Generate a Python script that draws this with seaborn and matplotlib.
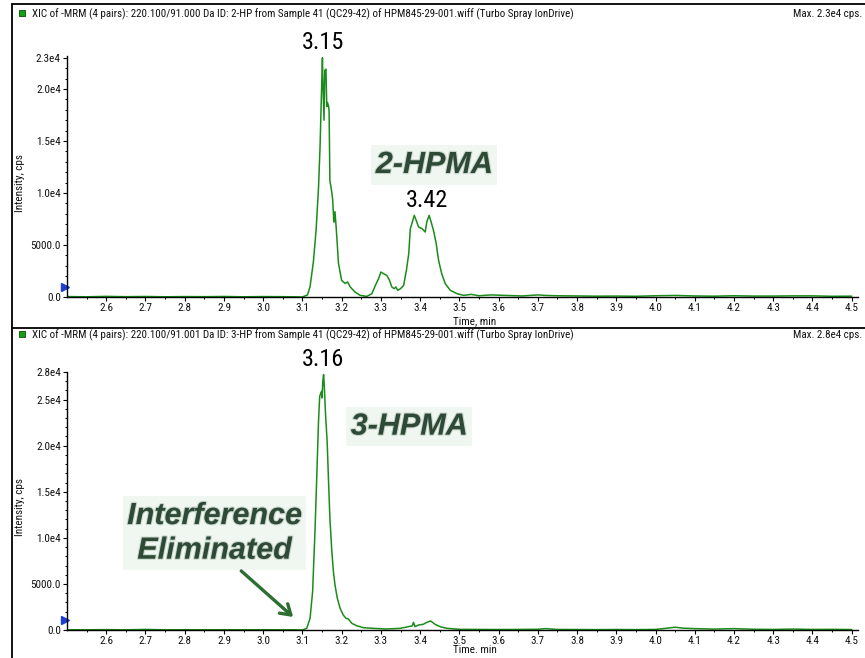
import os
import matplotlib
matplotlib.use("Agg")
import matplotlib.pyplot as plt
import seaborn as sns
import pandas as pd
from matplotlib import font_manager
from matplotlib.font_manager import FontProperties
from matplotlib.lines import Line2D
from matplotlib.patches import Rectangle
import matplotlib.patheffects as pe
from matplotlib.ticker import FixedLocator, MultipleLocator, FixedFormatter

# ---------------- data ----------------
header_2hp = ("XIC of -MRM (4 pairs): 220.100/91.000 Da ID: 2-HP from Sample 41 (QC29-42) "
              "of HPM845-29-001.wiff (Turbo Spray IonDrive)")
header_3hp = ("XIC of -MRM (4 pairs): 220.100/91.001 Da ID: 3-HP from Sample 41 (QC29-42) "
              "of HPM845-29-001.wiff (Turbo Spray IonDrive)")
max_2hp = "Max. 2.3e4 cps."
max_3hp = "Max. 2.8e4 cps."

time_2hp = [2.50, 2.55, 2.60, 2.65, 2.70, 2.75, 2.80, 2.85, 2.90, 2.95, 3.00, 3.05, 3.08,
            3.100, 3.113, 3.1195, 3.128, 3.135, 3.141, 3.145, 3.148, 3.151, 3.152, 3.155,
            3.157, 3.160, 3.162, 3.164, 3.167, 3.168, 3.170, 3.174, 3.177, 3.179, 3.180,
            3.183, 3.186, 3.192, 3.200, 3.209, 3.215, 3.222, 3.234, 3.247, 3.264, 3.277,
            3.286, 3.294, 3.300, 3.307, 3.315, 3.322, 3.328, 3.334, 3.338, 3.343, 3.350,
            3.358, 3.365, 3.371, 3.375, 3.379, 3.385, 3.390, 3.396, 3.405, 3.413, 3.417,
            3.423, 3.428, 3.434, 3.441, 3.447, 3.455, 3.464, 3.477, 3.494, 3.511, 3.53,
            3.55, 3.58, 3.62, 3.66, 3.70, 3.72, 3.75, 3.80, 3.85, 3.90, 3.95, 4.00, 4.05,
            4.10, 4.15, 4.20, 4.25, 4.30, 4.35, 4.40, 4.45, 4.50]
int_2hp = [40, 20, 60, 30, 50, 20, 40, 30, 50, 20, 40, 30, 20,
           0, 200, 1000, 3400, 6500, 10500, 14500, 18800, 23000, 21100, 17000,
           21800, 21900, 18300, 18700, 18300, 17800, 11200, 10300, 9400, 8000, 7200,
           8200, 6700, 3200, 1600, 1300, 1450, 960, 480, 160, 60, 320,
           1120, 1760, 2400, 2240, 2080, 1600, 960, 800, 960, 640, 800,
           1120, 2560, 4170, 6570, 7050, 7850, 7370, 6730, 6570, 6250, 7210,
           7850, 7210, 6410, 5130, 3530, 2240, 1280, 640, 320, 160, 250,
           120, 200, 150, 100, 200, 150, 120, 100, 80, 90, 70, 120, 150,
           100, 80, 120, 90, 90, 110, 110, 70, 80]

time_3hp = [2.50, 2.55, 2.60, 2.65, 2.70, 2.75, 2.80, 2.85, 2.90, 2.95, 3.00, 3.05, 3.08,
            3.100, 3.111, 3.1195, 3.126, 3.132, 3.137, 3.141, 3.144, 3.147, 3.149, 3.150,
            3.152, 3.154, 3.156, 3.159, 3.163, 3.166, 3.170, 3.175, 3.179, 3.183, 3.189,
            3.196, 3.204, 3.211, 3.217, 3.226, 3.238, 3.255, 3.281, 3.315, 3.349, 3.370,
            3.380, 3.383, 3.387, 3.396, 3.408, 3.417, 3.427, 3.438, 3.451, 3.468, 3.502,
            3.55, 3.60, 3.65, 3.70, 3.72, 3.75, 3.80, 3.85, 3.90, 3.95, 4.00, 4.03, 4.05,
            4.07, 4.10, 4.15, 4.20, 4.22, 4.25, 4.30, 4.35, 4.40, 4.45, 4.50]
int_3hp = [30, 20, 40, 20, 60, 20, 30, 20, 30, 20, 30, 20, 20,
           0, 180, 1270, 4170, 10690, 17210, 22640, 25360, 25720, 25900, 25180,
           27000, 27720, 26270, 23370, 20470, 16850, 12140, 8510, 6340, 4890, 3440,
           2360, 1630, 1270, 1200, 720, 470, 250, 180, 110, 180, 360,
           450, 830, 360, 540, 620, 830, 980, 620, 360, 180, 70,
           60, 50, 60, 80, 150, 60, 50, 40, 50, 40, 60, 200, 300,
           200, 150, 100, 150, 120, 80, 60, 100, 60, 70, 50]

x_ticks = [2.6, 2.7, 2.8, 2.9, 3.0, 3.1, 3.2, 3.3, 3.4, 3.5, 3.6, 3.7, 3.8, 3.9,
           4.0, 4.1, 4.2, 4.3, 4.4, 4.5]
x_labels = ["2.6", "2.7", "2.8", "2.9", "3.0", "3.1", "3.2", "3.3", "3.4", "3.5",
            "3.6", "3.7", "3.8", "3.9", "4.0", "4.1", "4.2", "4.3", "4.4", "4.5"]
y_ticks_2hp = [0, 5000, 10000, 15000, 20000, 23000]
y_labels_2hp = ["0.0", "5000.0", "1.0e4", "1.5e4", "2.0e4", "2.3e4"]
y_ticks_3hp = [0, 5000, 10000, 15000, 20000, 25000, 28000]
y_labels_3hp = ["0.0", "5000.0", "1.0e4", "1.5e4", "2.0e4", "2.5e4", "2.8e4"]

peak_labels_2hp = [(3.152, 24500, "3.15"), (3.418, 9230, "3.42")]
peak_labels_3hp = [(3.152, 29350, "3.16")]

# ---------------- fonts ----------------
sns.set_style("white")
plt.rcParams["font.family"] = ["Liberation Sans", "DejaVu Sans"]

BAD = ("bold", "italic", "oblique", "light", "thin", "medium", "semi", "extra", "black",
       "heavy", "demi")
narrow_path = None
best = 99
for f in font_manager.fontManager.ttflist:
    fn = os.path.basename(f.fname).lower()
    if not ("narrow" in fn or "condensed" in fn):
        continue
    if any(b in fn.replace("condensed", "").replace("narrow", "") for b in BAD):
        continue
    rank = 5
    if "liberationsansnarrow" in fn.replace("-", ""):
        rank = 0
    elif "arial" in fn:
        rank = 1
    elif "roboto" in fn:
        rank = 2
    elif "dejavu" in fn:
        rank = 3
    if rank < best:
        best, narrow_path = rank, f.fname


def nfp(size):
    if narrow_path:
        return FontProperties(fname=narrow_path, size=size)
    return FontProperties(family="Liberation Sans", size=size)


W, H = 865, 658
fig = plt.figure(figsize=(W / 100, H / 100), dpi=100)
r = fig.canvas.get_renderer()

# calibrate: "5000.0" tick label is ~30 px wide in the reference
_t = fig.text(0, 0, "5000.0", fontproperties=nfp(8))
NS = 30.5 / _t.get_window_extent(r).width
_t.remove()
TICK = 8 * NS


def fx(px):
    return px / W


def fy(py):
    return 1 - py / H


AX_L, AX_R = 67, 858
ax1 = fig.add_axes([fx(AX_L), fy(297), (AX_R - AX_L) / W, (297 - 56) / H])
ax2 = fig.add_axes([fx(AX_L), fy(630), (AX_R - AX_L) / W, (630 - 372) / H])

GREEN = "#1a8c1a"
df1 = pd.DataFrame({"Time": time_2hp, "Intensity": int_2hp})
df2 = pd.DataFrame({"Time": time_3hp, "Intensity": int_3hp})
sns.lineplot(data=df1, x="Time", y="Intensity", ax=ax1, color=GREEN, linewidth=1.1,
             estimator=None, sort=False)
sns.lineplot(data=df2, x="Time", y="Intensity", ax=ax2, color=GREEN, linewidth=1.1,
             estimator=None, sort=False)

x_minor = [round(v - 0.05, 2) for v in x_ticks]


def style_axes(ax, ymax, yticks, ylabels):
    ax.set_xlim(2.5, 4.516)
    ax.set_ylim(0, ymax)
    ax.set_xlabel("")
    ax.set_ylabel("")
    for s in ["top", "right"]:
        ax.spines[s].set_visible(False)
    for s in ["left", "bottom"]:
        ax.spines[s].set_color("black")
        ax.spines[s].set_linewidth(1.0)
    ax.xaxis.set_major_locator(FixedLocator(x_ticks))
    ax.xaxis.set_major_formatter(FixedFormatter(x_labels))
    ax.xaxis.set_minor_locator(FixedLocator(x_minor))
    ax.yaxis.set_major_locator(FixedLocator(yticks))
    ax.yaxis.set_major_formatter(FixedFormatter(ylabels))
    ax.yaxis.set_minor_locator(MultipleLocator(1000))
    ax.tick_params(which="major", direction="out", length=3, width=0.8, color="black",
                   pad=1.5, bottom=True, left=True, labelcolor="#111111")
    ax.tick_params(which="minor", direction="out", length=1.6, width=0.7, color="black",
                   bottom=True, left=True)
    for lab in ax.get_xticklabels() + ax.get_yticklabels():
        lab.set_fontproperties(nfp(TICK))
    ax.plot([-0.003], [0.04], marker=">", color="#1d3fd6", markersize=6,
            transform=ax.transAxes, clip_on=False)


style_axes(ax1, 23170, y_ticks_2hp, y_labels_2hp)
style_axes(ax2, 28000, y_ticks_3hp, y_labels_3hp)

BIG = 19 * NS * 28.0 / 30.5
for x, y, s in peak_labels_2hp:
    ax1.text(x, y, s, ha="center", va="center", fontproperties=nfp(BIG),
             color="black", clip_on=False)
for x, y, s in peak_labels_3hp:
    ax2.text(x, y, s, ha="center", va="center", fontproperties=nfp(BIG),
             color="black", clip_on=False)

tag_style = dict(fontsize=22, fontweight="bold", fontstyle="italic", color="#2e4a36",
                 ha="center", va="center",
                 bbox=dict(boxstyle="square,pad=0.15", facecolor="#f0f6f0", edgecolor="none"),
                 path_effects=[pe.withStroke(linewidth=1.6, foreground="#7f9c86", alpha=0.35)])
ax1.text(3.436, 12690, "2-HPMA", **tag_style)
ax2.text(3.372, 22070, "3-HPMA", **tag_style)
ax2.text(2.876, 10490, "Interference\nEliminated", linespacing=1.2, **tag_style)
ax2.annotate("", xy=(3.0764, 1413), xytext=(2.944, 6413),
             arrowprops=dict(arrowstyle="->,head_length=0.7,head_width=0.45",
                             color="#2d6e32", lw=2.4, shrinkA=0, shrinkB=0))

# ---------------- frame, headers ----------------
fig.add_artist(Line2D([fx(12), 1], [fy(4), fy(4)], color="black", lw=1.3))
fig.add_artist(Line2D([fx(12), fx(12)], [fy(4), 0], color="black", lw=1.3))
fig.add_artist(Line2D([fx(12), 1], [fy(328), fy(328)], color="black", lw=1.3))
for top in (10, 331):
    fig.add_artist(Rectangle((fx(19), fy(top + 6)), 6 / W, 6 / H, transform=fig.transFigure,
                             facecolor="#13a013", edgecolor="#0a4a0a", lw=0.6))

hdrs = [fig.text(fx(32), fy(14), header_2hp, ha="left", va="center",
                 fontproperties=nfp(TICK), color="#111111"),
        fig.text(fx(32), fy(335), header_3hp, ha="left", va="center",
                 fontproperties=nfp(TICK), color="#111111")]
mx = [fig.text(fx(862), fy(14), max_2hp, ha="right", va="center",
               fontproperties=nfp(TICK), color="#111111"),
      fig.text(fx(862), fy(335), max_3hp, ha="right", va="center",
               fontproperties=nfp(TICK), color="#111111")]
wdt = hdrs[0].get_window_extent(r).width
size = TICK * 541.0 / wdt
for t in hdrs + mx:
    t.set_fontsize(size)

fig.text(fx(475), fy(321), "Time, min", ha="center", va="center",
         fontproperties=nfp(TICK), color="#111111")
fig.text(fx(475), fy(650), "Time. min", ha="center", va="center",
         fontproperties=nfp(TICK), color="#111111")
fig.text(fx(20), fy(183), "Intensity, cps", rotation=90, ha="center", va="center",
         fontproperties=nfp(TICK), color="#111111")
fig.text(fx(20), fy(507), "Intensity, cps", rotation=90, ha="center", va="center",
         fontproperties=nfp(TICK), color="#111111")

fig.savefig("out.png", dpi=100)
